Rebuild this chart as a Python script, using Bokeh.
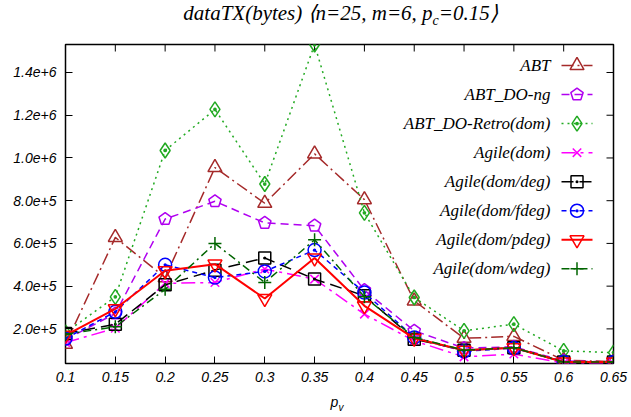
import math
from bokeh.plotting import figure
from bokeh.layouts import column
from bokeh.models import Range1d, FixedTicker, Label, Div
from bokeh.embed import file_html
from bokeh.resources import INLINE

# ---------------- data ----------------
pv = [0.1, 0.15, 0.2, 0.25, 0.3, 0.35, 0.4, 0.45, 0.5, 0.55, 0.6, 0.65]
x_tick_labels = ["0.1", "0.15", "0.2", "0.25", "0.3", "0.35", "0.4", "0.45", "0.5", "0.55", "0.6", "0.65"]
y_ticks = [200000, 400000, 600000, 800000, 1000000, 1200000, 1400000]
y_tick_labels = ["2.0e+5", "4.0e+5", "6.0e+5", "8.0e+5", "1.0e+6", "1.2e+6", "1.4e+6"]

names = ["ABT", "ABT_DO-ng", "ABT_DO-Retro(dom)", "Agile(dom)", "Agile(dom/deg)",
         "Agile(dom/fdeg)", "Agile(dom/pdeg)", "Agile(dom/wdeg)"]

abt = [128000, 628000, 440000, 955000, 788000, 1019000, 805000, 331000, 156000, 165000, 53000, 47000]
abt_do_ng = [150000, 272000, 714000, 797000, 696000, 683000, 381000, 191000, 110000, 116000, 50000, 45000]
abt_do_retro = [183000, 350000, 1035000, 1227000, 878000, 1531000, 743000, 347000, 191000, 222000, 97000, 89000]
agile_dom = [136000, 203000, 413000, 417000, 480000, 433000, 269000, 144000, 69000, 82000, 40000, 38000]
agile_deg = [178000, 222000, 406000, 475000, 532000, 433000, 355000, 152000, 100000, 112000, 45000, 45000]
agile_fdeg = [155000, 280000, 500000, 440000, 469000, 569000, 370000, 160000, 95000, 110000, 45000, 45000]
agile_pdeg = [170000, 294000, 472000, 503000, 342000, 532000, 308000, 156000, 100000, 112000, 45000, 45000]
agile_wdeg = [175000, 210000, 385000, 600000, 417000, 617000, 350000, 160000, 100000, 112000, 45000, 45000]

series = [abt, abt_do_ng, abt_do_retro, agile_dom, agile_deg, agile_fdeg, agile_pdeg, agile_wdeg]

title_html = "dataTX(bytes) \u27e8n=25, m=6, p<sub style='font-size:14px'>c</sub>=0.15\u27e9"
xlabel_html = "p<sub style='font-size:10px'>v</sub>"

# ---------------- styles ----------------
colors = ["#A52A2A", "#B000F0", "#22AA22", "#FF00FF", "#000000", "#0000FF", "#FF0000", "#006400"]
dashes = ["12 4 2 4", "8 5", "2 4", "14 5 3 5", "12 6", "5 4", "solid", "8 4 2 4"]
markers = ["triangle", "pentagon", "diamond_dot", "x", "square_dot", "circle_dot", "inverted_triangle", "cross"]
msizes = [14, 13, 15, 12, 12, 13, 14, 13]
widths = [1.5, 1.5, 1.5, 1.5, 1.5, 1.5, 2.0, 1.5]

TOTAL_W = 631
TITLE_H = 36
FIG_H = 359
XLAB_H = 417 - TITLE_H - FIG_H

FL, FR, FT, FB = 65, 613, 44, 363          # frame edges in page pixels
BL, BR = FL, TOTAL_W - FR
BT = FT - TITLE_H
BB = TITLE_H + FIG_H - FB
TICK_LEN = 7

all_vals = [v for s in series for v in s]
x0, x1 = min(pv), max(pv)
y0, y1 = min(all_vals), max(all_vals)

p = figure(width=TOTAL_W, height=FIG_H, output_backend="svg", toolbar_location=None, title=None,
           x_range=Range1d(x0, x1), y_range=Range1d(y0, y1),
           min_border_left=BL, min_border_right=BR, min_border_top=BT, min_border_bottom=BB)

p.background_fill_color = "white"
p.border_fill_color = "white"
p.outline_line_color = "black"
p.outline_line_width = 1.5
p.xgrid.visible = False
p.ygrid.visible = False

TICK_FONT = "Liberation Sans"
SERIF = "Liberation Serif"

for ax in (p.xaxis[0], p.yaxis[0]):
    ax.axis_line_color = None
    ax.major_tick_in = TICK_LEN
    ax.major_tick_out = 0
    ax.minor_tick_line_color = None
    ax.major_tick_line_color = "black"
    ax.major_tick_line_width = 1
    ax.major_label_text_font = TICK_FONT
    ax.major_label_text_font_style = "italic"
    ax.major_label_text_color = "black"
    ax.major_label_text_font_size = "14px"

p.xaxis.ticker = FixedTicker(ticks=pv)
p.xaxis.major_label_overrides = {v: s for v, s in zip(pv, x_tick_labels)}
p.yaxis.ticker = FixedTicker(ticks=y_ticks)
p.yaxis.major_label_overrides = {v: s for v, s in zip(y_ticks, y_tick_labels)}
p.xaxis.major_label_standoff = 8
p.yaxis.major_label_standoff = 9

# mirrored ticks on the top and right edges (gnuplot style, pointing inward)
dy_tick = TICK_LEN / (FB - FT) * (y1 - y0)
dx_tick = TICK_LEN / (FR - FL) * (x1 - x0)
p.segment(x0=pv, y0=[y1] * len(pv), x1=pv, y1=[y1 - dy_tick] * len(pv),
          line_color="black", line_width=1)
p.segment(x0=[x1] * len(y_ticks), y0=y_ticks, x1=[x1 - dx_tick] * len(y_ticks), y1=y_ticks,
          line_color="black", line_width=1)

# page pixel -> data helpers for the legend decoration
def X(px):
    return x0 + (px - FL) / (FR - FL) * (x1 - x0)

def Y(py):
    return y1 - (py - FT) / (FB - FT) * (y1 - y0)

def draw_marker(xs, ys, m, c, s):
    if m == "pentagon":
        p.ngon(x=xs, y=ys, radius=s / 2.0, radius_units="screen", n=5, angle=0,
               fill_color=None, line_color=c, line_width=1.5)
    else:
        p.scatter(xs, ys, marker=m, size=s, fill_color=None, line_color=c, line_width=1.5)

for vals, c, d, m, s, lw in zip(series, colors, dashes, markers, msizes, widths):
    p.line(pv, vals, line_color=c, line_width=lw, line_dash=d)
    draw_marker(pv, vals, m, c, s)

# legend (gnuplot style: label then sample)
for i, (name, c, d, m, s, lw) in enumerate(zip(names, colors, dashes, markers, msizes, widths)):
    ry = Y(65 + i * 29.05)
    p.line([X(561), X(592)], [ry, ry], line_color=c, line_width=lw, line_dash=d)
    draw_marker([X(576.5)], [ry], m, c, s)
    p.add_layout(Label(x=X(550), y=ry, text=name, text_align="right", text_baseline="middle",
                       text_font=SERIF, text_font_style="italic", text_font_size="17px",
                       text_color="black"))

title_div = Div(text=title_html, width=TOTAL_W - 50, height=TITLE_H, margin=(0, 0, 0, 50),
                styles={"font-family": SERIF, "font-style": "italic", "font-size": "21px",
                        "text-align": "center", "line-height": "1.1", "color": "black",
                        "padding-top": "2px"})
xlab_div = Div(text=xlabel_html, width=TOTAL_W - 43, height=XLAB_H, margin=(0, 0, 0, 43),
               styles={"font-family": TICK_FONT, "font-style": "italic", "font-size": "14px",
                       "text-align": "center", "line-height": "1", "color": "black",
                       "padding-top": "0px"})

layout = column(title_div, p, xlab_div, spacing=0)

open("out.html", "w").write(file_html(layout, INLINE))
